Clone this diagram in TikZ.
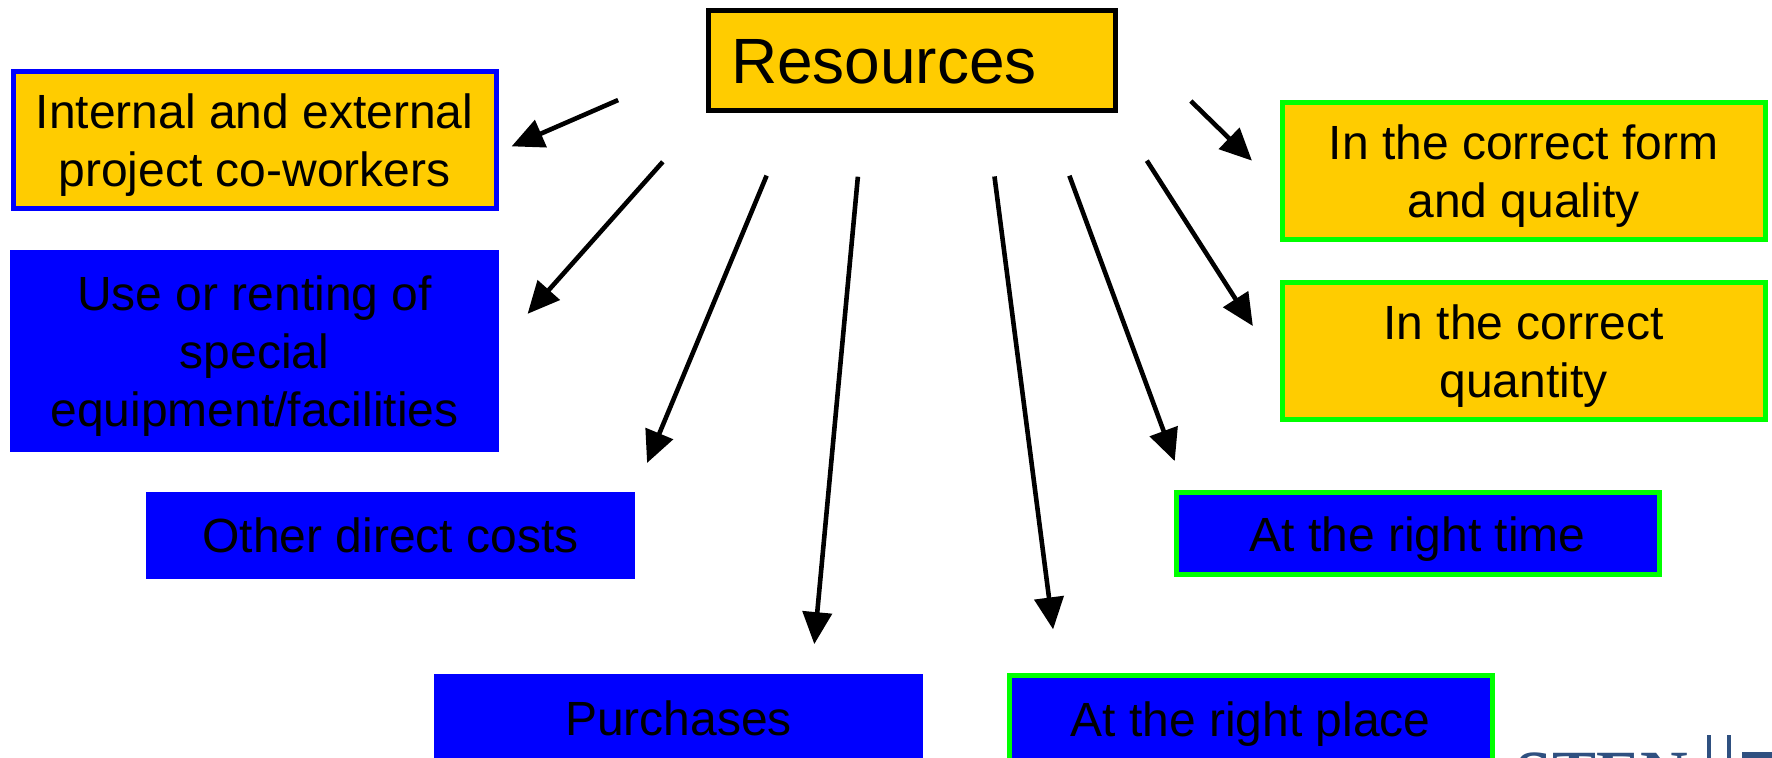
\documentclass[tikz,border=0pt]{standalone}
\usepackage{fontspec}
\setmainfont{Liberation Sans}
\newfontfamily\logofont{Liberation Serif}
\usepackage{xcolor}
\usetikzlibrary{positioning}
\usetikzlibrary{arrows.meta}
\definecolor{resyellow}{HTML}{FFCC00}
\definecolor{resblue}{HTML}{0000FF}
\definecolor{resgreen}{HTML}{00FF00}
\definecolor{logoblue}{HTML}{2F5080}
\tikzstyle{block} = [rectangle, fill=resblue, minimum width=244.5pt, outer sep=0pt, inner sep=0pt, align=center, text depth=0pt, execute at begin node={\vspace*{2.2pt}}, font=\fontsize{24}{29}\selectfont]
\tikzstyle{yblock} = [block, fill=resyellow, line width=2.5pt, minimum width=241.5pt, minimum height=68.5pt]
\tikzstyle{gblock} = [block, draw=resgreen, line width=2.5pt, minimum width=241.5pt]
\tikzstyle{line} = [draw, line width=2.3pt, -{Triangle[length=16pt,width=14.5pt]}]
\tikzstyle{logobar} = [draw=logoblue, line width=2pt]

\begin{document}
\begin{tikzpicture}[x=0.5pt, y=-0.5pt]
\useasboundingbox (0,0) rectangle (1772,758);
    % nodes
\node [yblock, draw=black, minimum width=203.5pt, minimum height=50pt, text width=180.5pt, inner xsep=11.5pt, align=left, font=\fontsize{32}{38}\selectfont] (res) at (911.5,61) {Resources};
\node [yblock, draw=resblue, below left=-19.5pt and 106pt of res] (cow) {Internal and external\\project co-workers};
\node [block, minimum height=101pt, below=20.5pt of cow] (equip) {Use or renting of\\special\\equipment/facilities};
\node [block, minimum height=43.5pt, below right=20pt and -176.5pt of equip] (other) {Other direct costs};
\node [block, minimum height=44pt, below right=47.5pt and -100.5pt of other] (purch) {Purchases};
\node [yblock, draw=resgreen, below right=-4pt and 83.5pt of res] (form) {In the correct form\\and quality};
\node [yblock, draw=resgreen, below=21.5pt of form] (qty) {In the correct\\quantity};
\node [gblock, minimum height=41pt, below left=36.5pt and -188.5pt of qty] (time) {At the right time};
\node [gblock, minimum height=44pt, below left=50pt and -158pt of time] (place) {At the right place};
\node [text=logoblue, anchor=base west, inner sep=0pt, font=\logofont\bfseries\fontsize{33}{33}\selectfont] (logo) at (1515,796) {STEN};
\coordinate (bara) at ([xshift=10.5pt,yshift=30.5pt]logo.base east);
\coordinate (barb) at ([xshift=20.5pt,yshift=30.5pt]logo.base east);
\coordinate (stema) at ([xshift=27pt,yshift=20.5pt]logo.base east);
\coordinate (stemb) at ([xshift=43pt,yshift=20.5pt]logo.base east);

%edges
\path [line, shorten <=49pt, shorten >=8.5pt] (res.west) -- (cow.-3);
\path [line, shorten <=34pt, shorten >=21.5pt] (res.south west) -- ([yshift=2.5pt]equip.east);
\path [line, shorten <=35pt, shorten >=15.7pt] ([xshift=-59pt]res.south) -- (other.north east);
\path [line, shorten <=33pt, shorten >=15pt] ([xshift=-23.75pt]res.south) -- ([xshift=66.5pt]purch.north);
\path [line, shorten <=33pt, shorten >=23pt] ([xshift=37.25pt]res.south) -- ([xshift=-95.75pt]place.north);
\path [line, shorten <=34.5pt, shorten >=17pt] ([xshift=67pt]res.south) -- ([xshift=-115.5pt]time.north);
\path [line, shorten <=29.5pt, shorten >=27pt] (res.south east) -- ([yshift=-10pt]qty.west);
\path [line, shorten <=53pt, shorten >=21pt] ([yshift=17pt]res.east) -- ([yshift=-9.25pt]form.west);
\path [logobar] (bara) -- (bara |- logo.base);
\path [logobar] (barb) -- (barb |- logo.base);
\path [logobar, line width=3pt] (stema) -- (stemb);
\end{tikzpicture}
\end{document}
